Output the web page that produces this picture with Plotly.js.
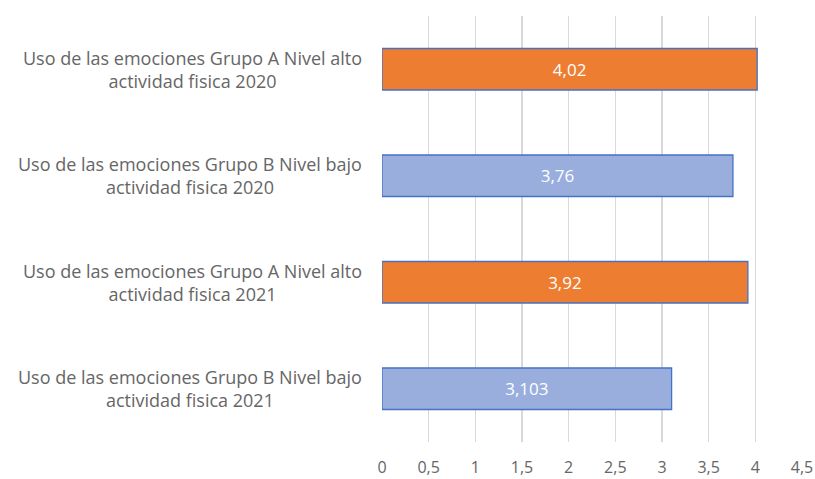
<!DOCTYPE html>
<html>
<head>
<meta charset="utf-8">
<script src="https://cdn.plot.ly/plotly-3.0.1.min.js"></script>
<style>html,body{margin:0;padding:0;background:#fff;}#chart{width:815px;height:479px;}</style>
</head>
<body>
<div id="chart"></div>
<script>
var categories = [
  "Uso de las emociones Grupo A Nivel alto<br>actividad fisica 2020",
  "Uso de las emociones Grupo B Nivel bajo<br>actividad fisica 2020",
  "Uso de las emociones Grupo A Nivel alto<br>actividad fisica 2021",
  "Uso de las emociones Grupo B Nivel bajo<br>actividad fisica 2021"
];
var values = [4.02, 3.76, 3.92, 3.103];
var barColors = ["#ED7D31", "#9AAEDD", "#ED7D31", "#9AAEDD"];
var tickVals = [0, 0.5, 1, 1.5, 2, 2.5, 3, 3.5, 4, 4.5];

var FONT = "Open Sans, Liberation Sans, sans-serif";

var trace = {
  type: "bar",
  orientation: "h",
  y: categories,
  x: values,
  marker: {color: barColors, line: {color: "#4472C4", width: 1.3}},
  texttemplate: "%{x}",
  textposition: "inside",
  insidetextanchor: "middle",
  textfont: {family: FONT, size: 17, color: "#ffffff"},
  hoverinfo: "none"
};

var annotations = categories.map(function(c){
  return {
    xref: "paper", yref: "y", x: 0, y: c,
    xanchor: "right", yanchor: "middle", xshift: -18,
    text: c, align: "center", showarrow: false,
    font: {family: FONT, size: 18, color: "#666666"}
  };
});

var layout = {
  width: 815, height: 479,
  margin: {l: 382, r: 13, t: 16, b: 37},
  paper_bgcolor: "#fff", plot_bgcolor: "#fff",
  separators: ",.",
  showlegend: false,
  bargap: 0.61,
  xaxis: {
    range: [0, 4.5], tickvals: tickVals, showgrid: true, gridcolor: "#D9D9D9", gridwidth: 1.3,
    zeroline: false, showline: false, ticks: "outside", ticklen: 11, tickcolor: "rgba(0,0,0,0)",
    tickfont: {family: FONT, size: 16, color: "#666666"}, fixedrange: true
  },
  yaxis: {
    autorange: "reversed", showticklabels: false, showgrid: false, zeroline: false,
    showline: false, ticks: "", fixedrange: true
  },
  annotations: annotations
};

Plotly.newPlot("chart", [trace], layout, {displayModeBar: false, staticPlot: true});
</script>
</body>
</html>
